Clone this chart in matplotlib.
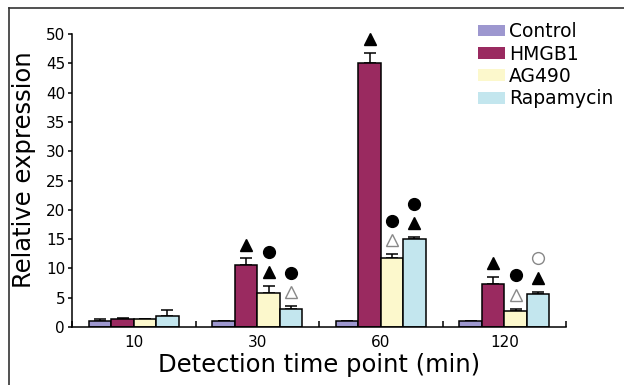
from matplotlib import pyplot as plt
from matplotlib.transforms import offset_copy
from matplotlib.lines import Line2D
from matplotlib.patches import Patch
import numpy as np

time_points = ['10', '30', '60', '120']
series = ['Control', 'HMGB1', 'AG490', 'Rapamycin']
colors = ['#9d97cf', '#9a2a60', '#fcf8cc', '#c3e6ee']

control = [1.1, 1.1, 1.1, 1.1]
hmgb1 = [1.3, 10.6, 45.0, 7.3]
ag490 = [1.3, 5.75, 11.7, 2.7]
rapamycin = [1.8, 3.05, 15.1, 5.6]

control_err = [0.2, 0.0, 0.0, 0.0]
hmgb1_err = [0.2, 1.1, 1.7, 1.3]
ag490_err = [0.0, 1.3, 0.75, 0.45]
rapamycin_err = [1.1, 0.5, 0.2, 0.45]

# significance marks, bottom to top: ^ filled triangle, A open triangle,
# o filled circle, O open circle
control_marks = ['', '', '', '']
hmgb1_marks = ['', '^', '^', '^']
ag490_marks = ['', '^o', 'Ao', 'Ao']
rapamycin_marks = ['', 'Ao', '^o', '^O']

values = [control, hmgb1, ag490, rapamycin]
errors = [control_err, hmgb1_err, ag490_err, rapamycin_err]
marks = [control_marks, hmgb1_marks, ag490_marks, rapamycin_marks]

mark_style = {
    '^': dict(marker='^', color='black', markersize=9),
    'A': dict(marker='^', markerfacecolor='white', markeredgecolor='#888888',
              markeredgewidth=1.0, markersize=9, linestyle='none'),
    'o': dict(marker='o', color='black', markersize=8.5),
    'O': dict(marker='o', markerfacecolor='white', markeredgecolor='#888888',
              markeredgewidth=1.0, markersize=8.5, linestyle='none'),
}

plt.rcParams['font.family'] = 'DejaVu Sans'
fig = plt.figure(figsize=(6.24, 3.85), dpi=100)
ax = fig.add_axes([0.1154, 0.1506, 0.7917, 0.7611])

x = np.arange(len(time_points))
width = 0.182
for i, name in enumerate(series):
    pos = x + (i - 1.5) * width
    ax.bar(pos, values[i], width, color=colors[i], edgecolor='black',
           linewidth=1.1, zorder=2)
    ax.errorbar(pos, values[i], yerr=[np.zeros(4), errors[i]], fmt='none',
                ecolor='black', elinewidth=1.1, capsize=4, capthick=1.1,
                zorder=1)
    for j in range(len(time_points)):
        top = values[i][j] + errors[i][j]
        for k, m in enumerate(marks[i][j]):
            tr = offset_copy(ax.transData, fig=fig, x=0, y=10 + 14 * k,
                             units='points')
            ax.plot(pos[j], top, transform=tr, clip_on=False, zorder=3,
                    **mark_style[m])

ax.set_xlim(-0.5, 3.5)
ax.set_ylim(0, 50)
ax.set_yticks(range(0, 51, 5))
ax.set_xticks(x)
ax.set_xticklabels(time_points)
ax.set_xticks(np.arange(-0.5, 3.6, 1), minor=True)
ax.tick_params(axis='x', which='major', length=0, labelsize=11, pad=6)
ax.tick_params(axis='x', which='minor', direction='in', length=4,
               width=1.1)
ax.tick_params(axis='y', direction='out', length=3, width=1.1,
               labelsize=11, pad=2)
for s in ['top', 'right']:
    ax.spines[s].set_visible(False)
for s in ['left', 'bottom']:
    ax.spines[s].set_linewidth(1.1)

ax.set_xlabel('Detection time point (min)', fontsize=17.5, labelpad=2)
ax.set_ylabel('Relative expression', fontsize=17.5)
ax.yaxis.set_label_coords(-0.073, 0.536)

handles = [Patch(facecolor=c, edgecolor='none', label=n)
           for c, n in zip(colors, series)]
ax.legend(handles=handles, loc='upper left', bbox_to_anchor=(0.806, 1.066),
          frameon=False, fontsize=13.5, handlelength=1.45, handleheight=0.6,
          handletextpad=0.2, labelspacing=0.18, borderaxespad=0)

# outer frame, only top and left edges are visible
fig.add_artist(Line2D([9 / 624, 1], [1 - 8 / 385] * 2,
                      transform=fig.transFigure, color='#333333', lw=1.2))
fig.add_artist(Line2D([9 / 624] * 2, [0, 1 - 8 / 385],
                      transform=fig.transFigure, color='#333333', lw=1.2))

fig.savefig('out.png', dpi=100)
